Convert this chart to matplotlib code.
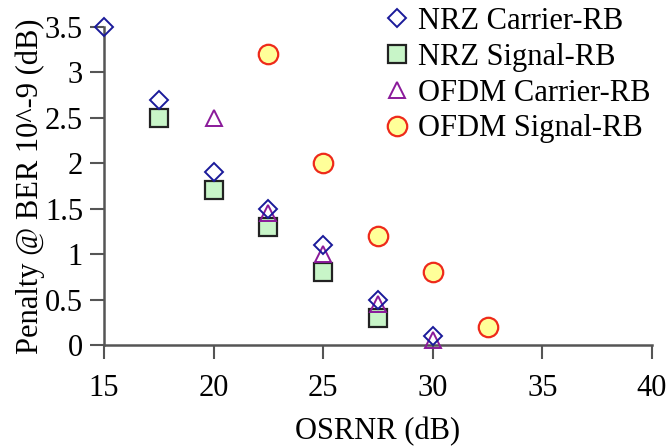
import matplotlib
matplotlib.use("Agg")
import matplotlib.pyplot as plt

plt.rcParams['font.family'] = ['Liberation Serif', 'DejaVu Serif']

# data
nrz_car_x = [15, 17.5, 20, 22.5, 25, 27.5, 30]
nrz_car_y = [3.5, 2.7, 1.9, 1.5, 1.1, 0.5, 0.1]

nrz_sig_x = [17.5, 20, 22.5, 25, 27.5]
nrz_sig_y = [2.5, 1.7, 1.3, 0.8, 0.3]

ofdm_car_x = [20, 22.5, 25, 27.5, 30]
ofdm_car_y = [2.5, 1.45, 1.0, 0.45, 0.05]

ofdm_sig_x = [22.5, 25, 27.5, 30, 32.5]
ofdm_sig_y = [3.2, 2.0, 1.2, 0.8, 0.2]

x_ticks = [15, 20, 25, 30, 35, 40]
y_ticks = [0, 0.5, 1, 1.5, 2, 2.5, 3, 3.5]
y_labels = ["0", "0.5", "1", "1.5", "2", "2.5", "3", "3.5"]

fig = plt.figure(figsize=(6.66, 4.48), dpi=100)
ax = fig.add_axes([0.156, 0.230, 0.823, 0.710])

ax.plot(ofdm_sig_x, ofdm_sig_y, 'o', ms=14, mfc='#ffff99', mec='#ee2a1a', mew=1.6,
        ls='none', label='OFDM Signal-RB', clip_on=False, zorder=3)
ax.plot(nrz_sig_x, nrz_sig_y, 's', ms=13.5, mfc='#c8f5c8', mec='#222222', mew=1.6,
        ls='none', label='NRZ Signal-RB', clip_on=False, zorder=4)
ax.plot(ofdm_car_x, ofdm_car_y, '^', ms=12, mfc='none', mec='#8a1a9a', mew=1.4,
        ls='none', label='OFDM Carrier-RB', clip_on=False, zorder=5)
ax.plot(nrz_car_x, nrz_car_y, 'D', ms=9.5, mfc='none', mec='#1a1a9a', mew=1.4,
        ls='none', label='NRZ Carrier-RB', clip_on=False, zorder=6)

ax.set_xlim(15, 40)
ax.set_ylim(0, 3.5)
ax.set_xticks(x_ticks)
ax.set_yticks(y_ticks)
ax.set_yticklabels(y_labels)

for s in ['top', 'right']:
    ax.spines[s].set_visible(False)
for s in ['left', 'bottom']:
    ax.spines[s].set_color('#555555')
    ax.spines[s].set_linewidth(1.8)
ax.tick_params(direction='out', length=10, width=1.5, color='#555555', labelsize=22)
ax.tick_params(axis='x', pad=11)
ax.tick_params(axis='y', pad=5)

ax.set_xlabel("OSRNR (dB)", fontsize=22, labelpad=10)
ax.set_ylabel("Penalty @ BER 10^-9 (dB)", fontsize=22, labelpad=0)

h, l = ax.get_legend_handles_labels()
order = [3, 1, 2, 0]
ax.legend([h[i] for i in order], [l[i] for i in order], loc='upper right',
          bbox_to_anchor=(1.025, 1.11), frameon=False, fontsize=22,
          handletextpad=0.1, labelspacing=0.22, handlelength=1.2, borderpad=0)

fig.savefig("out.png", dpi=100)
